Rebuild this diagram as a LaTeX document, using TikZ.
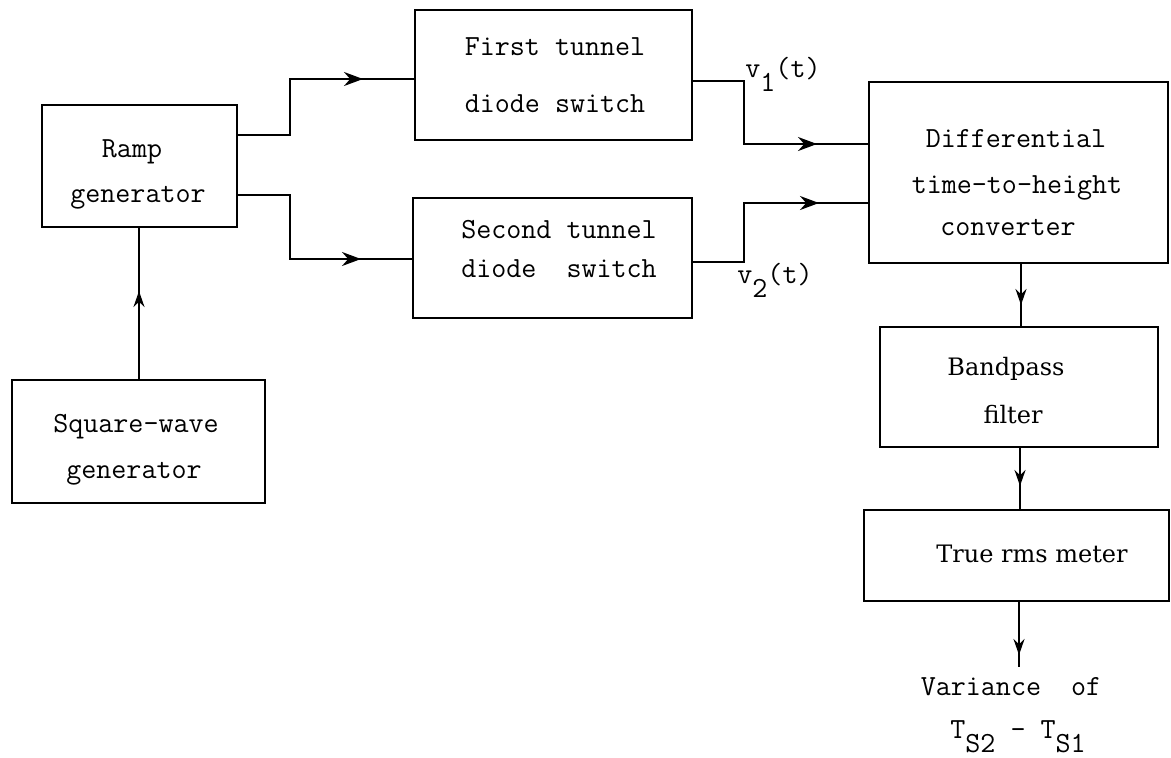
\documentclass[tikz,border=0pt]{standalone}
\usepackage{fontspec}
\setmainfont{DejaVu Serif}
\usetikzlibrary{arrows.meta,decorations.markings}
\newcommand\lowr[1]{\raisebox{-7pt}{#1}}
\tikzset{
  box/.style={draw, line width=1pt, inner sep=0pt, outer sep=0pt},
  mono/.style={font=\ttfamily\fontsize{14.6}{16}\selectfont, inner sep=0pt, anchor=base},
  serif/.style={font=\fontsize{12}{14}\selectfont, inner sep=0pt, anchor=base},
  conn/.style={line width=1pt},
  harr/.style={conn, postaction={decorate}, decoration={markings, mark=at position -#1 with {\arrow{Stealth[length=9.5pt,width=7pt]}}}},
  varr/.style={conn, postaction={decorate}, decoration={markings, mark=at position -#1 with {\arrow{Stealth[length=8pt,width=5.5pt]}}}}
}
\begin{document}
\begin{tikzpicture}[x=0.5pt,y=-0.5pt]
\useasboundingbox (0,0) rectangle (1171,757);

% boxes
\node[box, minimum width=97.5pt, minimum height=61pt] (ramp) at (139.5,166) {};
\node[box, minimum width=126.5pt, minimum height=61.5pt] (square) at (138.5,441.5) {};
\node[box, minimum width=138.5pt, minimum height=65pt] (first) at (553.5,75) {};
\node[box, minimum width=139.5pt, minimum height=60pt] (second) at (552.5,258) {};
\node[box, minimum width=149.5pt, minimum height=90.5pt] (conv) at (1018.5,172.5) {};
\node[box, minimum width=139pt, minimum height=60pt] (band) at (1019,387) {};
\node[box, minimum width=152.5pt, minimum height=45.5pt] (rms) at (1016.5,555.5) {};

% texts
\node[mono] (t-ramp1) at (132,157) {Ramp};
\node[mono] (t-ramp2) at (138,202) {generator};
\node[mono] (t-sq1) at (136,432) {Square-wave};
\node[mono] (t-sq2) at (134,478) {generator};
\node[mono] (t-f1) at (555,55) {First tunnel};
\node[mono] (t-f2) at (555,112) {diode switch};
\node[mono] (t-s1) at (559,238) {Second tunnel};
\node[mono] (t-s2) at (559,277) {diode\ \ switch};
\node[mono] (t-c1) at (1016,147) {Differential};
\node[mono] (t-c2) at (1017,193) {time-to-height};
\node[mono] (t-c3) at (1008,235) {converter};
\node[serif] (t-b1) at (1006,375) {Bandpass};
\node[serif] (t-b2) at (1013,423) {filter};
\node[serif] (t-r1) at (1032,562) {True rms meter};
\node[mono] (t-o1) at (1011,695) {Variance\ \ of};
\node[mono, anchor=base west] (t-o2) at (950,738) {T\lowr{S2} - T\lowr{S1}};
\node[mono, anchor=base west] (v1) at (745,77) {v\lowr{1}(t)};
\node[mono, anchor=base west] (v2) at (737,283) {v\lowr{2}(t)};

% connectors
\draw[harr=26pt] (ramp.east |- 0,135) -| (290,79) -- (first.west |- 0,79);
\draw[harr=26pt] (ramp.east |- 0,195) -| (290,259) -- (second.west |- 0,259);
\draw[harr=26pt] (first.east |- 0,81) -| (744,144) -- (conv.west |- 0,144);
\draw[harr=25pt] (second.east |- 0,262) -| (744,203) -- (conv.west |- 0,203);
\draw[varr=32pt] (square.north -| 139,0) -- (ramp.south -| 139,0);
\draw[varr=11pt] (conv.south -| 1021,0) -- (band.north -| 1021,0);
\draw[varr=12pt] (band.south -| 1020,0) -- (rms.north -| 1020,0);
\coordinate (outend) at (1019,667);
\draw[varr=6pt] (rms.south -| 1019,0) -- (outend);
\end{tikzpicture}
\end{document}
